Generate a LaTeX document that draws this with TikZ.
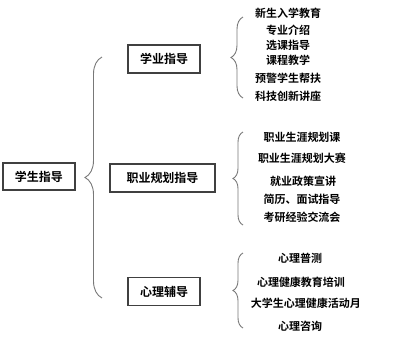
\documentclass[tikz,border=0pt]{standalone}
\usepackage{fontspec}
\setmainfont{Noto Sans CJK SC}[BoldFont={Noto Sans CJK SC Bold}]
\usepackage{tikz}
\usetikzlibrary{
    positioning,                      % right=of, below=of
    calc,                             % ($(a)+(1,0)$)
    decorations.pathreplacing         % llaves
}
\definecolor{boxline}{RGB}{64,64,64}
\definecolor{braceline}{RGB}{120,120,120}

\begin{document}
\begin{tikzpicture}[
        x=1pt, y=1pt,
        font=\bfseries,
        blk/.style={draw=boxline, line width=1.1pt, align=center, minimum height=28pt, inner sep=3pt, font=\bfseries\fontsize{12}{13}\selectfont},
        item/.style={inner sep=1pt, font=\bfseries\fontsize{11}{12}\selectfont},
        brc/.style={draw=braceline, line width=0.9pt, decorate, decoration={brace, amplitude=#1}}]

        \useasboundingbox (0,0) rectangle (400,-357);

        % raiz
        \node[blk, minimum width=72pt, minimum height=27pt] (root) at (39,-176.5) {学生指导};

        % segundo nivel
        \node[blk, minimum width=72pt]  (study)  at (164,-59)  {学业指导};
        \node[blk, minimum width=105pt] (career) at (162.5,-178) {职业规划指导};
        \node[blk, minimum width=72pt]  (psych)  at (164,-291.5) {心理辅导};

        % llave grande
        \coordinate (rb) at (102,-298);
        \coordinate (rt) at (102,-57);
        \draw[brc=17pt] (rb) -- (rt);

        % tercer nivel: academico
        \node[item] (s1) at (288,-13) {新生入学教育};
        \node[item] (s2) at (288,-30) {专业介绍};
        \node[item] (s3) at (288,-45) {选课指导};
        \node[item] (s4) at (288,-60) {课程教学};
        \node[item] (s5) at (288,-78) {预警学生帮扶};
        \node[item] (s6) at (288,-96) {科技创新讲座};
        \coordinate (sb) at (243,-98);
        \coordinate (st) at (243,-17);
        \draw[brc=12pt] (sb) -- (st);

        % tercer nivel: carrera
        \node[item] (c1) at (302,-137) {职业生涯规划课};
        \node[item] (c2) at (302,-158) {职业生涯规划大赛};
        \node[item] (c3) at (303,-181) {就业政策宣讲};
        \node[item] (c4) at (302,-199) {简历、面试指导};
        \node[item] (c5) at (302,-217) {考研经验交流会};
        \coordinate (cb) at (243,-225);
        \coordinate (ct) at (243,-132);
        \draw[brc=10pt] (cb) -- (ct);

        % tercer nivel: psicologia
        \node[item] (p1) at (300,-258) {心理普测};
        \node[item] (p2) at (301,-282) {心理健康教育培训};
        \node[item] (p3) at (306,-303) {大学生心理健康活动月};
        \node[item] (p4) at (300,-326) {心理咨询};
        \coordinate (pb) at (243,-328);
        \coordinate (pt) at (243,-253);
        \draw[brc=10pt] (pb) -- (pt);
    \end{tikzpicture}
\end{document}
